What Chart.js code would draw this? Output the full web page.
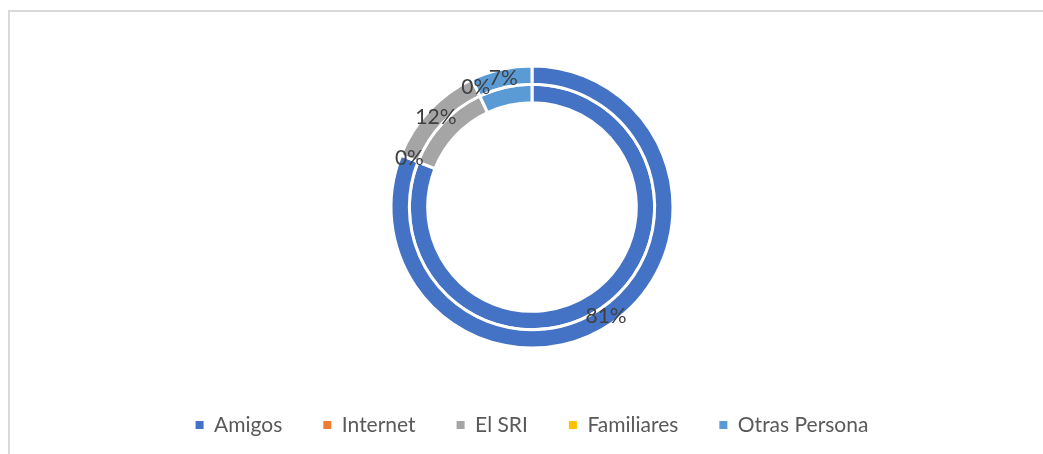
<!DOCTYPE html>
<html>
<head>
<meta charset="utf-8">
<script src="https://cdn.jsdelivr.net/npm/chart.js@4.4.1/dist/chart.umd.min.js"></script>
<style>
    html, body { margin: 0; padding: 0; background: #ffffff; overflow: hidden; }
    #frame {
        position: absolute; left: 8px; top: 10px; width: 1100px; height: 500px;
        border-left: 2px solid #d9d9d9; border-top: 2px solid #d9d9d9;
    }
    #chartBox { position: absolute; left: 0; top: 0; width: 1043px; height: 454px; }
</style>
</head>
<body>
<div id="frame"></div>
<div id="chartBox"><canvas id="fuenteChart" width="1043" height="454"></canvas></div>
<script>
// Categorias y porcentajes
var categorias = ['Amigos', 'Internet', 'El SRI', 'Familiares', 'Otras Persona'];
var porcentajes = [81, 0, 12, 0, 7];
var colores = ['#4472C4', '#ED7D31', '#A5A5A5', '#FFC000', '#5B9BD5'];

// etiquetas de porcentaje sobre el anillo exterior
var etiquetasPlugin = {
    id: 'etiquetas',
    afterDatasetsDraw: function(chart) {
        var ctx = chart.ctx;
        var meta = chart.getDatasetMeta(0);
        ctx.save();
        ctx.font = '21px Lato, "Open Sans", sans-serif';
        ctx.fillStyle = '#404040';
        ctx.textAlign = 'center';
        ctx.textBaseline = 'middle';
        meta.data.forEach(function(arc, i) {
            var pos = arc.tooltipPosition();
            ctx.fillText(porcentajes[i] + '%', pos.x, pos.y);
        });
        ctx.restore();
    }
};

// leyenda con altura fija (el padding solo separa los items)
var leyendaPlugin = {
    id: 'leyendaAltura',
    beforeInit: function(chart) {
        var fitOriginal = chart.legend.fit;
        chart.legend.fit = function() {
            fitOriginal.bind(chart.legend)();
            this.height = 80.5;
        };
    }
};

var ctx = document.getElementById('fuenteChart').getContext('2d');
var fuenteChart = new Chart(ctx, {
    type: 'doughnut',
    data: {
        labels: categorias,
        datasets: [{
            data: porcentajes,
            backgroundColor: colores,
            borderColor: '#ffffff',
            borderWidth: 3
        }, {
            data: porcentajes,
            backgroundColor: colores,
            borderColor: '#ffffff',
            borderWidth: 3
        }]
    },
    options: {
        responsive: false,
        animation: false,
        radius: 141,
        cutout: '74%',
        layout: {
            padding: { left: 21, right: 0, top: 40.5, bottom: 0 }
        },
        plugins: {
            legend: {
                position: 'bottom',
                labels: {
                    boxWidth: 8,
                    boxHeight: 8,
                    padding: 41,
                    color: '#595959',
                    font: { size: 21, family: 'Lato, "Open Sans", sans-serif' },
                    generateLabels: function(chart) {
                        // sin el borde blanco de los arcos en los cuadritos
                        var items = Chart.overrides.doughnut.plugins.legend.labels.generateLabels(chart);
                        items.forEach(function(it) { it.lineWidth = 0; });
                        return items;
                    }
                }
            },
            tooltip: { enabled: false }
        }
    },
    plugins: [etiquetasPlugin, leyendaPlugin]
});
</script>
</body>
</html>
